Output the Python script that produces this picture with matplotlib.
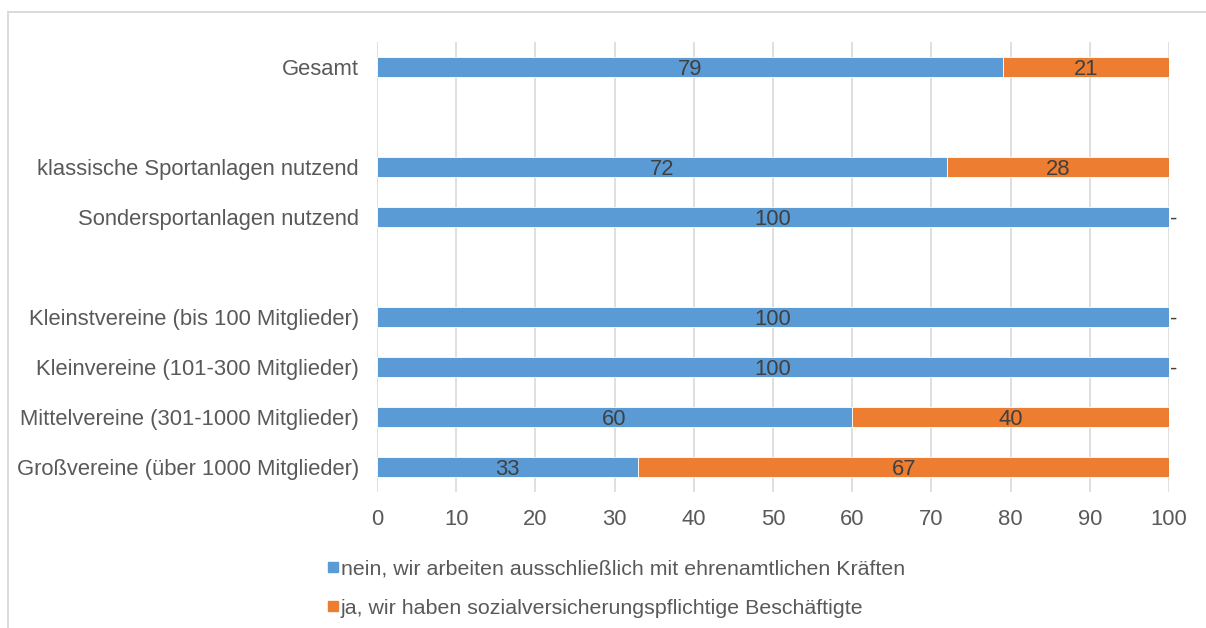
import matplotlib.pyplot as plt
from matplotlib.patches import Rectangle
from matplotlib.lines import Line2D
import numpy as np

plt.rcParams['font.family'] = ['Liberation Sans', 'DejaVu Sans']

# None marks an empty spacer row
categories = ['Gesamt', None, 'klassische Sportanlagen nutzend', 'Sondersportanlagen nutzend', None,
              'Kleinstvereine (bis 100 Mitglieder)', 'Kleinvereine (101-300 Mitglieder)',
              'Mittelvereine (301-1000 Mitglieder)', 'Großvereine (über 1000 Mitglieder)']
nein = [79, None, 72, 100, None, 100, 100, 60, 33]
ja = [21, None, 28, 0, None, 0, 0, 40, 67]
series_names = ['nein, wir arbeiten ausschließlich mit ehrenamtlichen Kräften',
                'ja, wir haben sozialversicherungspflichtige Beschäftigte']
colors = ['#5B9BD5', '#ED7D31']
text_col = '#595959'
fs = 15.8

fig = plt.figure(figsize=(12.06, 6.28), dpi=100)
ax = fig.add_axes([377 / 1206, 1 - 492 / 628, 792 / 1206, 450 / 628])

# light frame (only top and left edges are visible)
fig.add_artist(Line2D([7.5 / 1206, 7.5 / 1206], [0, 1 - 11.5 / 628], transform=fig.transFigure,
                      color='#D9D9D9', linewidth=1.4))
fig.add_artist(Line2D([7.5 / 1206, 1], [1 - 11.5 / 628, 1 - 11.5 / 628], transform=fig.transFigure,
                      color='#D9D9D9', linewidth=1.4))

n = len(categories)
y = np.arange(n)
for i in range(n):
    if categories[i] is None:
        continue
    ax.barh(y[i], nein[i], height=0.4, color=colors[0], edgecolor='white', linewidth=0.6, zorder=3)
    ax.barh(y[i], ja[i], left=nein[i], height=0.4, color=colors[1], edgecolor='white', linewidth=0.6, zorder=3)
    ax.text(nein[i] / 2, y[i], str(nein[i]), ha='center', va='center_baseline', fontsize=fs,
            color='#404040', zorder=4)
    if ja[i] > 0:
        ax.text(nein[i] + ja[i] / 2, y[i], str(ja[i]), ha='center', va='center_baseline', fontsize=fs,
                color='#404040', zorder=4)
    else:
        ax.text(100.1, y[i], '-', ha='left', va='center_baseline', fontsize=fs, color='#404040', zorder=4)

ax.set_ylim(n - 0.5, -0.5)
ax.set_xlim(0, 100)
ax.set_xticks(np.arange(0, 101, 10))
ax.set_yticks(y)
ax.set_yticklabels([c if c else '' for c in categories])
ax.tick_params(axis='both', length=0, labelsize=fs, colors=text_col)
ax.tick_params(axis='x', pad=12)
ax.tick_params(axis='y', pad=13)
ax.grid(axis='x', color='#D9D9D9', linewidth=1.2, zorder=0)
for s in ax.spines.values():
    s.set_visible(False)

# legend entries at the bottom
for k, name in enumerate(series_names):
    yy = 1 - (567 + 39 * k) / 628
    fig.patches.append(Rectangle((328 / 1206, yy - 5 / 628), 10 / 1206, 10 / 628, transform=fig.transFigure,
                                 color=colors[k]))
    fig.text(341 / 1206, yy, name, ha='left', va='center_baseline', fontsize=15.4, color=text_col)

fig.savefig('out.png', dpi=100)
